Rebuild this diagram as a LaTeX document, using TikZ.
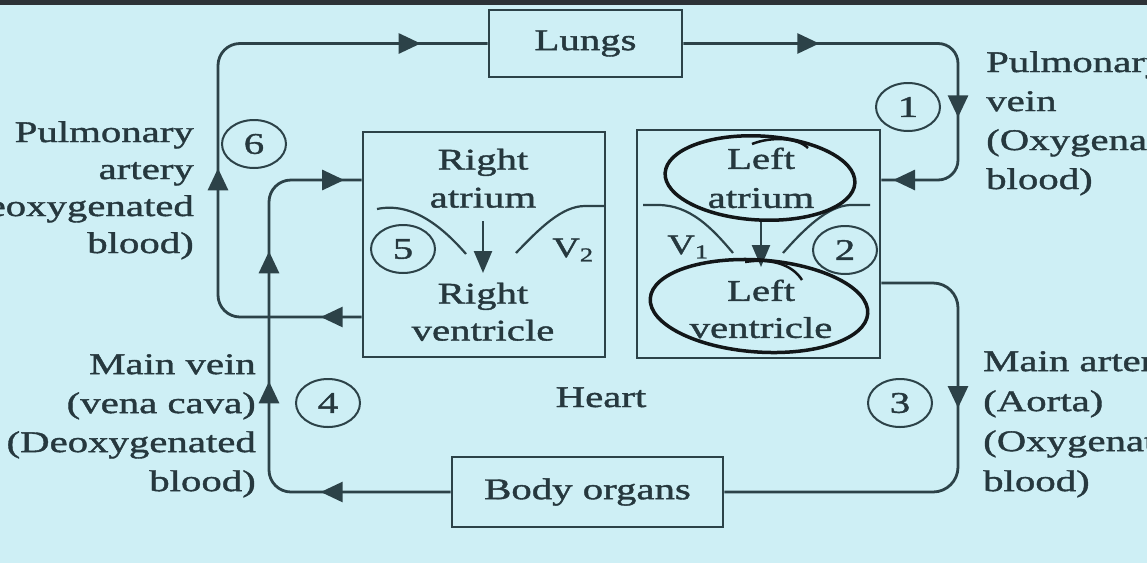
\documentclass[tikz,border=0pt]{standalone}
\usepackage{fontspec}
\setmainfont{Liberation Serif}[FakeStretch=1.36,FakeBold=1.3]
\usetikzlibrary{arrows.meta,decorations.markings,shapes.geometric}
\definecolor{bg}{RGB}{206,239,245}
\definecolor{ink}{RGB}{44,66,72}
\definecolor{txt}{RGB}{38,56,62}
\definecolor{pen}{RGB}{18,22,24}
\definecolor{topbar}{RGB}{45,50,55}
\begin{document}
\begin{tikzpicture}[x=1pt,y=-1pt,
  flowtip/.tip={Triangle[length=22pt,width=20pt]},
  lbl/.style={font=\fontsize{30}{39}\selectfont, text=txt, inner sep=0pt},
  box/.style={draw=ink, line width=2.6pt, inner sep=0pt, font=\fontsize{30}{36}\selectfont, text=txt},
  flow/.style={color=ink, line width=2.8pt},
  arrowat/.style={postaction={decorate,decoration={markings,mark=at position #1 with {\arrow{flowtip}}}}},
  num/.style={ellipse, draw=ink, line width=2pt, minimum width=64pt, minimum height=48pt, inner sep=0pt, font=\fontsize{30}{36}\selectfont, text=txt},
  hand/.style={draw=pen, line width=3.5pt},
  valve/.style={draw=ink, line width=2.2pt}
]
\useasboundingbox (0,0) rectangle (1147,563);
\clip (0,0) rectangle (1147,563);
\fill[bg] (0,0) rectangle (1147,563);
\fill[topbar] (0,0) rectangle (1147,5);

% boxes
\node[box, minimum width=193pt, minimum height=67pt] (lungs) at (585.5,43.5) {Lungs};
\node[box, minimum width=242pt, minimum height=225pt] (rh) at (484,244.5) {};
\node[box, minimum width=243pt, minimum height=228pt] (lh) at (758.5,244) {};
\node[box, minimum width=271pt, minimum height=70pt] (body) at (587.5,492) {Body organs};

% heart texts
\node[lbl, align=center, anchor=north, font=\fontsize{30}{38}\selectfont] (ra) at (483,148.5) {Right\\atrium};
\node[lbl, align=center, anchor=north, font=\fontsize{30}{37}\selectfont] (rv) at (483,282.5) {Right\\ventricle};
\node[lbl, align=center, anchor=north, font=\fontsize{30}{39}\selectfont] (la) at (761,147.5) {Left\\atrium};
\node[lbl, align=center, anchor=north, font=\fontsize{30}{37}\selectfont] (lv) at (761,279.5) {Left\\ventricle};
\node[lbl, anchor=base] (heart) at (601,407) {Heart};
\node[lbl, font=\fontsize{28}{30}\selectfont] (v2) at (573,250) {V\textsubscript{2}};
\node[lbl, font=\fontsize{28}{30}\selectfont] (v1) at (688,247) {V\textsubscript{1}};

% valves
\draw[valve] (377,209) .. controls (410,202) and (440,224) .. (466,254);
\draw[valve] (516,253) .. controls (540,228) and (562,206) .. (585,206) -- (605,206);
\draw[valve] (643,205) -- (658,205) .. controls (690,205) and (712,228) .. (733,253);
\draw[valve] (783,253) .. controls (805,228) and (828,206) .. (850,205) -- (870,205);

% heart arrows
\draw[flow, line width=2.4pt, -{Triangle[length=22pt,width=18pt]}, shorten <=13pt, shorten >=9.5pt] (ra.south) -- (rv.north);
\draw[flow, line width=2.4pt, -{Triangle[length=22pt,width=18pt]}, shorten <=13pt, shorten >=12.5pt] (la.south) -- (lv.north);

% hand-drawn ellipses
\draw[hand, rotate around={-3:(760,178)}] (760,178) ellipse [x radius=95, y radius=42];
\draw[hand, rotate around={-4:(759,306)}] (759,306) ellipse [x radius=109, y radius=46];
\draw[hand, line width=2.5pt] (752,144) .. controls (772,136) and (798,138) .. (808,148);
\draw[hand, line width=2.5pt] (745,262) .. controls (770,258) and (792,264) .. (802,280);

% circled numbers
\node[num] (n6) at (254,144) {6};
\node[num] (n5) at (403,249) {5};
\node[num] (n1) at (908,107) {1};
\node[num] (n2) at (845,250) {2};
\node[num] (n3) at (900,403) {3};
\node[num] (n4) at (328,403) {4};

% side labels
\node[lbl, align=right, anchor=north east, font=\fontsize{30}{37}\selectfont] (palbl) at (194,121) {Pulmonary\\artery\\(Deoxygenated\\blood)};
\node[lbl, align=right, anchor=north east] (vclbl) at (256,354) {Main vein\\(vena cava)\\(Deoxygenated\\blood)};
\node[lbl, align=left, anchor=north west] (pvlbl) at (986,51) {Pulmonary\\vein\\(Oxygenated\\blood)};
\node[lbl, align=left, anchor=north west, font=\fontsize{30}{40}\selectfont] (aolbl) at (983,351) {Main artery\\(Aorta)\\(Oxygenated\\blood)};

% circulation connectors
\draw[flow, rounded corners=22pt, arrowat=41pt, arrowat=283pt, arrowat=601pt] (rh.west |- 0,317) -| (218,43.5) -- (lungs.west);
\draw[flow, rounded corners=20pt, arrowat=136pt, arrowat=340pt, arrowat=459pt] (lungs.east) -| (958,180) -- (lh.east |- 0,180);
\draw[flow, rounded corners=25pt, arrowat=191pt] (lh.east |- 0,283) -| (958,492) -- (body.east);
\draw[flow, rounded corners=22pt, arrowat=130pt, arrowat=283pt, arrowat=413pt, arrowat=550pt] (body.west) -| (269,180) -- (rh.west |- 0,180);
\end{tikzpicture}
\end{document}
